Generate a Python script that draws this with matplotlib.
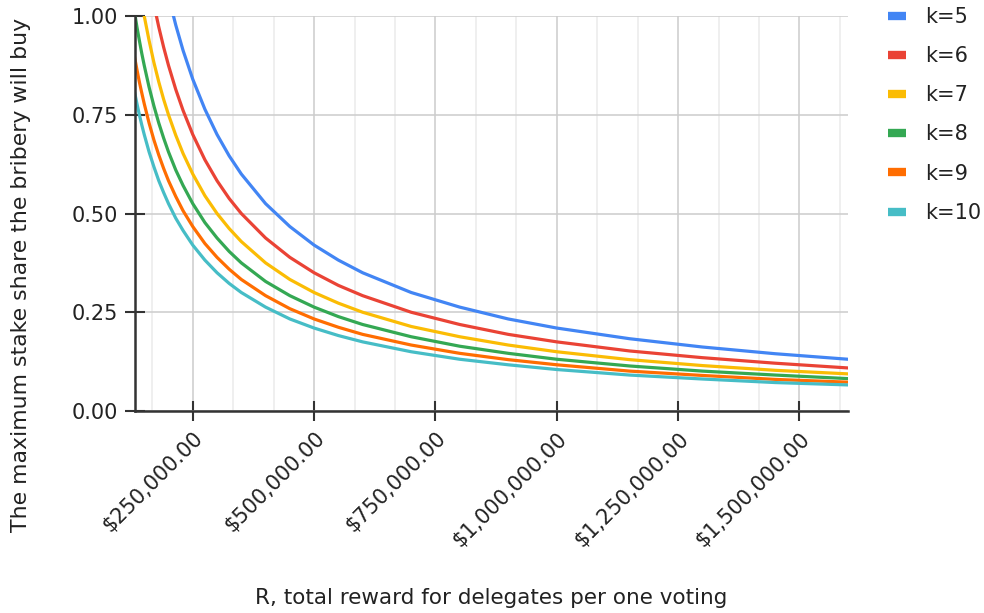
import matplotlib
matplotlib.use("Agg")
import matplotlib.pyplot as plt
from matplotlib.ticker import FuncFormatter, MultipleLocator

plt.rcParams["font.family"] = ["DejaVu Sans"]

# total reward R (USD)
reward = [130000, 135000, 140000, 145000, 150000, 160000, 170000, 180000,
          190000, 200000, 215000, 230000, 250000, 275000, 300000, 325000,
          350000, 400000, 450000, 500000, 550000, 600000, 700000, 800000,
          900000, 1000000, 1150000, 1300000, 1450000, 1600000]

share_k5 = [1.615, 1.556, 1.5, 1.448, 1.4, 1.313, 1.235, 1.167, 1.105, 1.05,
            0.977, 0.913, 0.84, 0.764, 0.70, 0.646, 0.60, 0.525, 0.467, 0.42,
            0.382, 0.35, 0.30, 0.263, 0.233, 0.21, 0.183, 0.162, 0.145, 0.131]
share_k6 = [1.346, 1.296, 1.25, 1.207, 1.167, 1.094, 1.029, 0.972, 0.921, 0.875,
            0.814, 0.761, 0.70, 0.636, 0.583, 0.538, 0.50, 0.438, 0.389, 0.35,
            0.318, 0.292, 0.25, 0.219, 0.194, 0.175, 0.152, 0.135, 0.121, 0.109]
share_k7 = [1.154, 1.111, 1.071, 1.034, 1.0, 0.938, 0.882, 0.833, 0.789, 0.75,
            0.698, 0.652, 0.60, 0.545, 0.50, 0.462, 0.429, 0.375, 0.333, 0.30,
            0.273, 0.25, 0.214, 0.188, 0.167, 0.15, 0.130, 0.115, 0.103, 0.094]
share_k8 = [1.010, 0.972, 0.938, 0.905, 0.875, 0.820, 0.772, 0.729, 0.691, 0.656,
            0.610, 0.571, 0.525, 0.477, 0.438, 0.404, 0.375, 0.328, 0.292, 0.263,
            0.239, 0.219, 0.188, 0.164, 0.146, 0.131, 0.114, 0.101, 0.091, 0.082]
share_k9 = [0.897, 0.864, 0.833, 0.805, 0.778, 0.729, 0.686, 0.648, 0.614, 0.583,
            0.543, 0.507, 0.467, 0.424, 0.389, 0.359, 0.333, 0.292, 0.259, 0.233,
            0.212, 0.194, 0.167, 0.146, 0.130, 0.117, 0.101, 0.090, 0.080, 0.073]
share_k10 = [0.808, 0.778, 0.75, 0.724, 0.70, 0.656, 0.618, 0.583, 0.553, 0.525,
             0.488, 0.457, 0.42, 0.382, 0.35, 0.323, 0.30, 0.263, 0.233, 0.21,
             0.191, 0.175, 0.15, 0.131, 0.117, 0.105, 0.091, 0.081, 0.072, 0.066]

labels = ["k=5", "k=6", "k=7", "k=8", "k=9", "k=10"]
series = [share_k5, share_k6, share_k7, share_k8, share_k9, share_k10]
colors = ["#4285F4", "#EA4335", "#FBBC04", "#34A853", "#FF6D01", "#46BDC6"]

txt = "#222222"
fs = 15
fig = plt.figure(figsize=(9.84, 6.13), dpi=100)
ax = fig.add_axes([135/984, 1-411/613, (848-135)/984, (411-16)/613])

for ys, c, lab in zip(series, colors, labels):
    ax.plot(reward, ys, color=c, lw=2.3, label=lab, solid_joinstyle="round")

ax.set_xlim(131000, 1600000)
ax.set_ylim(0, 1)

ax.xaxis.set_major_locator(MultipleLocator(250000))
ax.xaxis.set_minor_locator(MultipleLocator(250000/3))
ax.yaxis.set_major_locator(MultipleLocator(0.25))
ax.xaxis.set_major_formatter(FuncFormatter(lambda v, p: "${:,.2f}".format(v)))
ax.yaxis.set_major_formatter(FuncFormatter(lambda v, p: "{:.2f}".format(v)))

ax.grid(which="major", color="#cccccc", lw=1.1)
ax.grid(which="minor", axis="x", color="#ebebeb", lw=1.1)
ax.set_axisbelow(True)

for s in ["top", "right"]:
    ax.spines[s].set_visible(False)
for s in ["left", "bottom"]:
    ax.spines[s].set_color("#333333")
    ax.spines[s].set_linewidth(1.8)
    ax.spines[s].set_zorder(5)

ax.tick_params(which="major", direction="inout", length=15, width=1.5,
               color="#333333", labelsize=fs, labelcolor=txt, pad=5)
ax.tick_params(which="minor", length=0)
plt.setp(ax.get_xticklabels(), rotation=45, ha="right", rotation_mode="anchor")

fig.text(0.021, 1-275/613, "The maximum stake share the bribery will buy",
         rotation=90, ha="center", va="center", fontsize=15.8, color=txt)
fig.text(491/984, 1-598/613, "R, total reward for delegates per one voting",
         ha="center", va="center", fontsize=15.5, color=txt)

leg = fig.legend(loc="upper left", bbox_to_anchor=(888/984, 1-7/613), frameon=False,
                 fontsize=fs, handlelength=0.85, handletextpad=0.95,
                 labelspacing=0.92, borderpad=0, borderaxespad=0, labelcolor=txt)
for h in leg.get_lines():
    h.set_linewidth(6)
    h.set_solid_capstyle("butt")

fig.savefig("out.png", dpi=100)
